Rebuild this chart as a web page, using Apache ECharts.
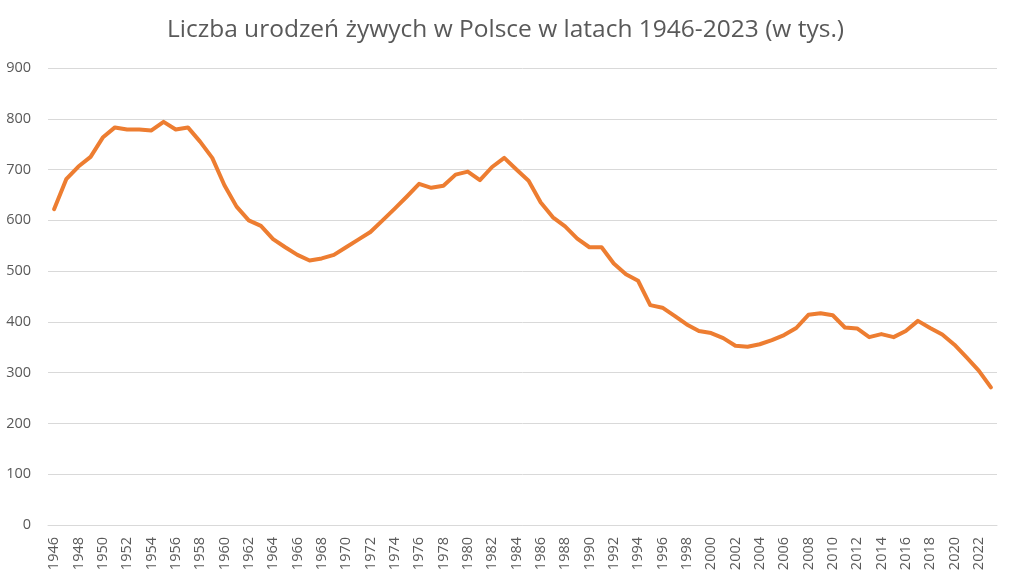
<!DOCTYPE html>
<html><head><meta charset="utf-8">
<script src="https://cdn.jsdelivr.net/npm/echarts@6/dist/echarts.min.js"></script>
<style>html,body{margin:0;padding:0;background:#fff}#c{width:1011px;height:582px}</style>
</head><body><div id="c"></div>
<script>
const years = [];
for (let y = 1946; y <= 2023; y++) years.push(String(y));
const births = [
622, 681, 706, 725, 763, 783, 779, 779, 777, 794,
779, 783, 755, 723, 669, 627, 600, 589, 563, 547,
532, 521, 525, 532, 547, 562, 577, 600, 623, 647,
672, 664, 668, 690, 696, 679, 705, 723, 700, 678,
635, 606, 588, 564, 547, 547, 515, 494, 481, 433,
428, 412, 395, 382, 378, 368, 353, 351, 356, 364,
374, 388, 414, 417, 413, 389, 387, 370, 376, 370,
382, 402, 388, 375, 355, 330, 304, 271
];
const yTicks = { min: 0, max: 900, interval: 100 };
const chart = echarts.init(document.getElementById('c'));
chart.setOption({
  animation: false,
  title: {
    text: 'Liczba urodzeń żywych w Polsce w latach 1946-2023 (w tys.)',
    left: 'center', top: 13,
    textStyle: { fontFamily: 'Open Sans', fontSize: 24.5, fontWeight: 'normal', color: '#595959' }
  },
  grid: { left: 48, right: 14, top: 68, bottom: 57, containLabel: false },
  xAxis: {
    type: 'category', data: years, boundaryGap: true,
    axisLine: { show: true, lineStyle: { color: '#D9D9D9', width: 1 } },
    axisTick: { show: false },
    axisLabel: { interval: 1, rotate: 90, fontFamily: 'Open Sans', fontSize: 14.5, color: '#595959', margin: 12 }
  },
  yAxis: {
    type: 'value', min: yTicks.min, max: yTicks.max, interval: yTicks.interval,
    axisLine: { show: false }, axisTick: { show: false },
    splitLine: { lineStyle: { color: '#D9D9D9', width: 1 } },
    axisLabel: { fontFamily: 'Open Sans', fontSize: 14.5, color: '#595959', margin: 17 }
  },
  series: [{
    type: 'line', data: births, showSymbol: false, smooth: false,
    lineStyle: { color: '#ED7D31', width: 4, join: 'round', cap: 'round' }
  }]
});
</script></body></html>
